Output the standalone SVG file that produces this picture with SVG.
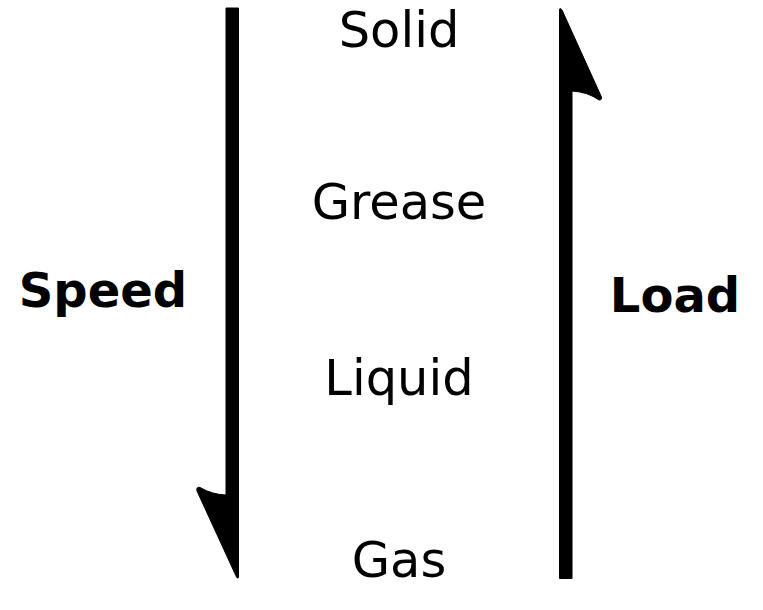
<svg xmlns="http://www.w3.org/2000/svg" width="763" height="610" viewBox="0 0 763 610">
<style>
  .lbl { font-family: "DejaVu Sans", Verdana, sans-serif; font-size: 49.5px; fill: #000; text-anchor: middle; }
  .bold { font-weight: bold; font-size: 48px; }
  .arrow { fill: #000; stroke: #000; stroke-width: 1; stroke-linejoin: round; }
</style>
<rect width="763" height="610" fill="#fff"/>
<g id="connectors">
  <path id="speed-arrow" class="arrow" d="M226,8 L238.5,8 L238.5,577.5 Q237.5,579 236.5,577 L197,491 Q196,486.5 200,487.5 Q212,494.5 226,495 Z"/>
  <path id="load-arrow" class="arrow" d="M559.5,578.5 L572,578.5 L572,91 Q588,92 599,100 Q603,100 601,96 L562,10 Q559.5,7 559.5,10 Z"/>
</g>
<g id="node-solid"><text class="lbl" x="399" y="47">Solid</text></g>
<g id="node-grease"><text class="lbl" x="399" y="219">Grease</text></g>
<g id="node-liquid"><text class="lbl" x="399" y="395">Liquid</text></g>
<g id="node-gas"><text class="lbl" x="399" y="577">Gas</text></g>
<g id="node-speed"><text class="lbl bold" x="103" y="307">Speed</text></g>
<g id="node-load"><text class="lbl bold" x="675" y="312">Load</text></g>
</svg>
